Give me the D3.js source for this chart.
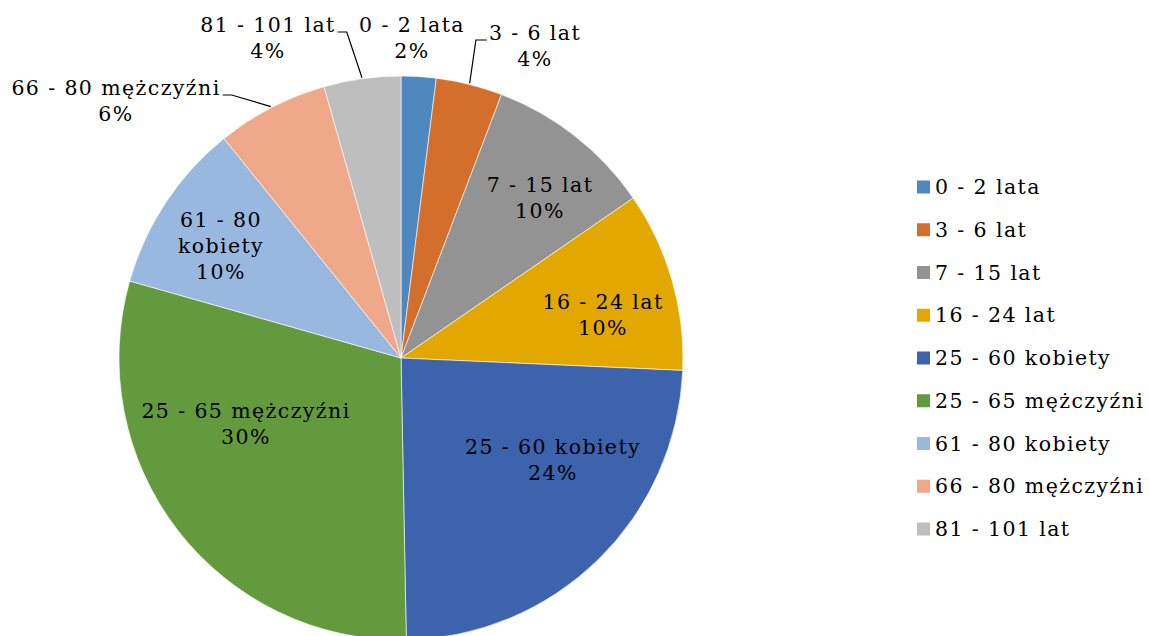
<!DOCTYPE html>
<html>
<head>
<meta charset="utf-8">
<script src="https://cdn.jsdelivr.net/npm/d3@7"></script>
<style>
  body { margin: 0; background: #fff; }
  text { font-family: "DejaVu Serif", serif; font-size: 20.5px; fill: #000; letter-spacing: 1.4px; }
</style>
</head>
<body>
<div id="chart"></div>
<script>
// data (share of respondents, %)
const categories = ["0 - 2 lata", "3 - 6 lat", "7 - 15 lat", "16 - 24 lat", "25 - 60 kobiety",
  "25 - 65 mężczyźni", "61 - 80 kobiety", "66 - 80 mężczyźni", "81 - 101 lat"];
const values = [2.0, 3.8, 9.6, 10.3, 24.0, 29.7, 9.8, 6.4, 4.4];
const colors = ["#4f88bf", "#d36e2b", "#939393", "#e2a800", "#3c63ac", "#639a3e", "#98b8df", "#f0a88a", "#bebebe"];

// label layout: lines of the category label, centre of the text block, leader side
const labelLines = [["0 - 2 lata"], ["3 - 6 lat"], ["7 - 15 lat"], ["16 - 24 lat"], ["25 - 60 kobiety"],
  ["25 - 65 mężczyźni"], ["61 - 80", "kobiety"], ["66 - 80 mężczyźni"], ["81 - 101 lat"]];
const labelPos = [[412, 25], [535, 33], [540, 185], [603, 302], [553, 447], [246, 411], [221, 220], [116, 88], [268, 25]];
const leaders = [null, "left", null, null, null, null, null, "right", "right"];

const W = 1149, H = 636;
const cx = 401, cy = 358, R = 282;

const svg = d3.select("#chart").append("svg")
  .attr("width", W).attr("height", H);

const pie = d3.pie().sort(null).value(d => d)(values);
const arc = d3.arc().innerRadius(0).outerRadius(R);

const g = svg.append("g").attr("transform", `translate(${cx},${cy})`);

g.selectAll("path.slice")
  .data(pie)
  .join("path")
    .attr("class", "slice")
    .attr("d", arc)
    .attr("fill", (d, i) => colors[i])
    .attr("stroke", "#fff")
    .attr("stroke-width", 0.6);

const total = d3.sum(values);
const lineH = 26;

// data labels
const firstSpans = [];
pie.forEach((d, i) => {
  const [lx, ly] = labelPos[i];
  const lines = labelLines[i].concat([Math.round(d.value / total * 100) + "%"]);
  const t = svg.append("text").attr("text-anchor", "middle");
  lines.forEach((s, k) => {
    const sp = t.append("tspan").attr("x", lx).attr("y", ly + k * lineH).attr("dy", "0.35em").text(s);
    if (k === 0) firstSpans[i] = sp;
  });
});

// leader lines
pie.forEach((d, i) => {
  if (!leaders[i]) return;
  const mid = (d.startAngle + d.endAngle) / 2;
  const ex = cx + Math.sin(mid) * (R + 1), ey = cy - Math.cos(mid) * (R + 1);
  const [lx, ly] = labelPos[i];
  const halfW = firstSpans[i].node().getComputedTextLength() / 2;
  let sx, kx;
  if (leaders[i] === "right") { sx = lx + halfW + 2; kx = sx + 9; }
  else { sx = lx - halfW - 2; kx = sx - 11; }
  const sy = ly + 7;
  svg.append("polyline")
    .attr("points", `${sx},${sy} ${kx},${sy} ${ex},${ey}`)
    .attr("fill", "none").attr("stroke", "#000").attr("stroke-width", 1.2);
});

// legend
const legend = svg.append("g").attr("transform", "translate(917,187)");
const rows = legend.selectAll("g").data(categories).join("g")
  .attr("transform", (d, i) => `translate(0,${i * 42.75})`);
rows.append("rect").attr("x", 0).attr("y", -6.5).attr("width", 13).attr("height", 13)
  .attr("fill", (d, i) => colors[i]);
rows.append("text").attr("x", 18).attr("y", 0).attr("dy", "0.35em").text(d => d);
</script>
</body>
</html>
